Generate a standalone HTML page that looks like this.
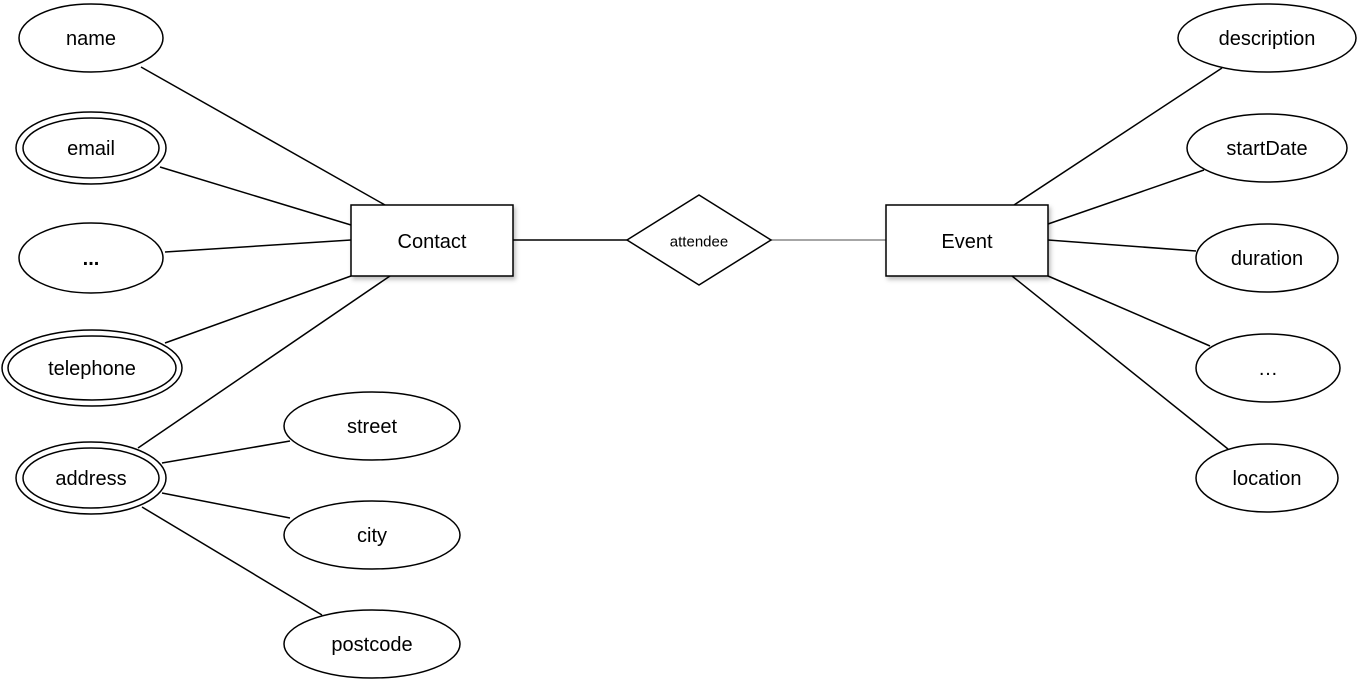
<!DOCTYPE html>
<html><head><meta charset="utf-8"><style>
html,body{margin:0;padding:0;background:#fff;}
svg{display:block;}
text{font-family:"Liberation Sans",Arial,sans-serif;font-size:20px;fill:#000;text-anchor:middle;dominant-baseline:central;}
</style></head><body>
<svg width="1360" height="682" viewBox="0 0 1360 682" xmlns="http://www.w3.org/2000/svg">
<defs><filter id="sh" x="-20%" y="-20%" width="150%" height="150%"><feDropShadow dx="2" dy="3" stdDeviation="2" flood-color="#000" flood-opacity="0.25"/></filter></defs>
<g stroke="#000" stroke-width="1.5" fill="none">
<line x1="141" y1="67" x2="385" y2="205"/>
<line x1="160" y1="167" x2="351" y2="225"/>
<line x1="165" y1="252" x2="351" y2="240"/>
<line x1="165" y1="343" x2="351" y2="276"/>
<line x1="138" y1="448" x2="390" y2="276"/>
<line x1="162" y1="463" x2="290" y2="441"/>
<line x1="162" y1="493" x2="290" y2="518"/>
<line x1="142" y1="507" x2="322" y2="615"/>
<line x1="513" y1="240" x2="627" y2="240"/>
<line x1="771" y1="240" x2="886" y2="240" stroke="#888"/>
<line x1="1014" y1="205" x2="1222" y2="68"/>
<line x1="1048" y1="224" x2="1204" y2="170"/>
<line x1="1048" y1="240" x2="1196" y2="251"/>
<line x1="1048" y1="276" x2="1210" y2="346"/>
<line x1="1012" y1="276" x2="1228" y2="449"/>
</g>
<g stroke="#000" stroke-width="1.5" fill="#fff">
<ellipse cx="91" cy="38" rx="72" ry="34"/>
<ellipse cx="91" cy="148" rx="75" ry="36"/><ellipse cx="91" cy="148" rx="68" ry="30"/>
<ellipse cx="91" cy="258" rx="72" ry="35"/>
<ellipse cx="92" cy="368" rx="90" ry="38"/><ellipse cx="92" cy="368" rx="84" ry="32"/>
<ellipse cx="91" cy="478" rx="75" ry="36"/><ellipse cx="91" cy="478" rx="68" ry="30"/>
<ellipse cx="372" cy="426" rx="88" ry="34"/>
<ellipse cx="372" cy="535" rx="88" ry="34"/>
<ellipse cx="372" cy="644" rx="88" ry="34"/>
<ellipse cx="1267" cy="38" rx="89" ry="34"/>
<ellipse cx="1267" cy="148" rx="80" ry="34"/>
<ellipse cx="1267" cy="258" rx="71" ry="34"/>
<ellipse cx="1268" cy="368" rx="72" ry="34"/>
<ellipse cx="1267" cy="478" rx="71" ry="34"/>
<rect x="351" y="205" width="162" height="71" filter="url(#sh)"/>
<polygon points="627,240 699,195 771,240 699,285"/>
<rect x="886" y="205" width="162" height="71" filter="url(#sh)"/>
</g>
<text x="91" y="39">name</text>
<text x="91" y="149">email</text>
<text x="91" y="259" style="font-weight:bold">...</text>
<text x="92" y="369">telephone</text>
<text x="91" y="479">address</text>
<text x="372" y="427">street</text>
<text x="372" y="536">city</text>
<text x="372" y="645">postcode</text>
<text x="432" y="242">Contact</text>
<text x="699" y="242" style="font-size:15px">attendee</text>
<text x="967" y="242">Event</text>
<text x="1267" y="39">description</text>
<text x="1267" y="149">startDate</text>
<text x="1267" y="259">duration</text>
<text x="1268" y="369">…</text>
<text x="1267" y="479">location</text>
</svg>
</body></html>
